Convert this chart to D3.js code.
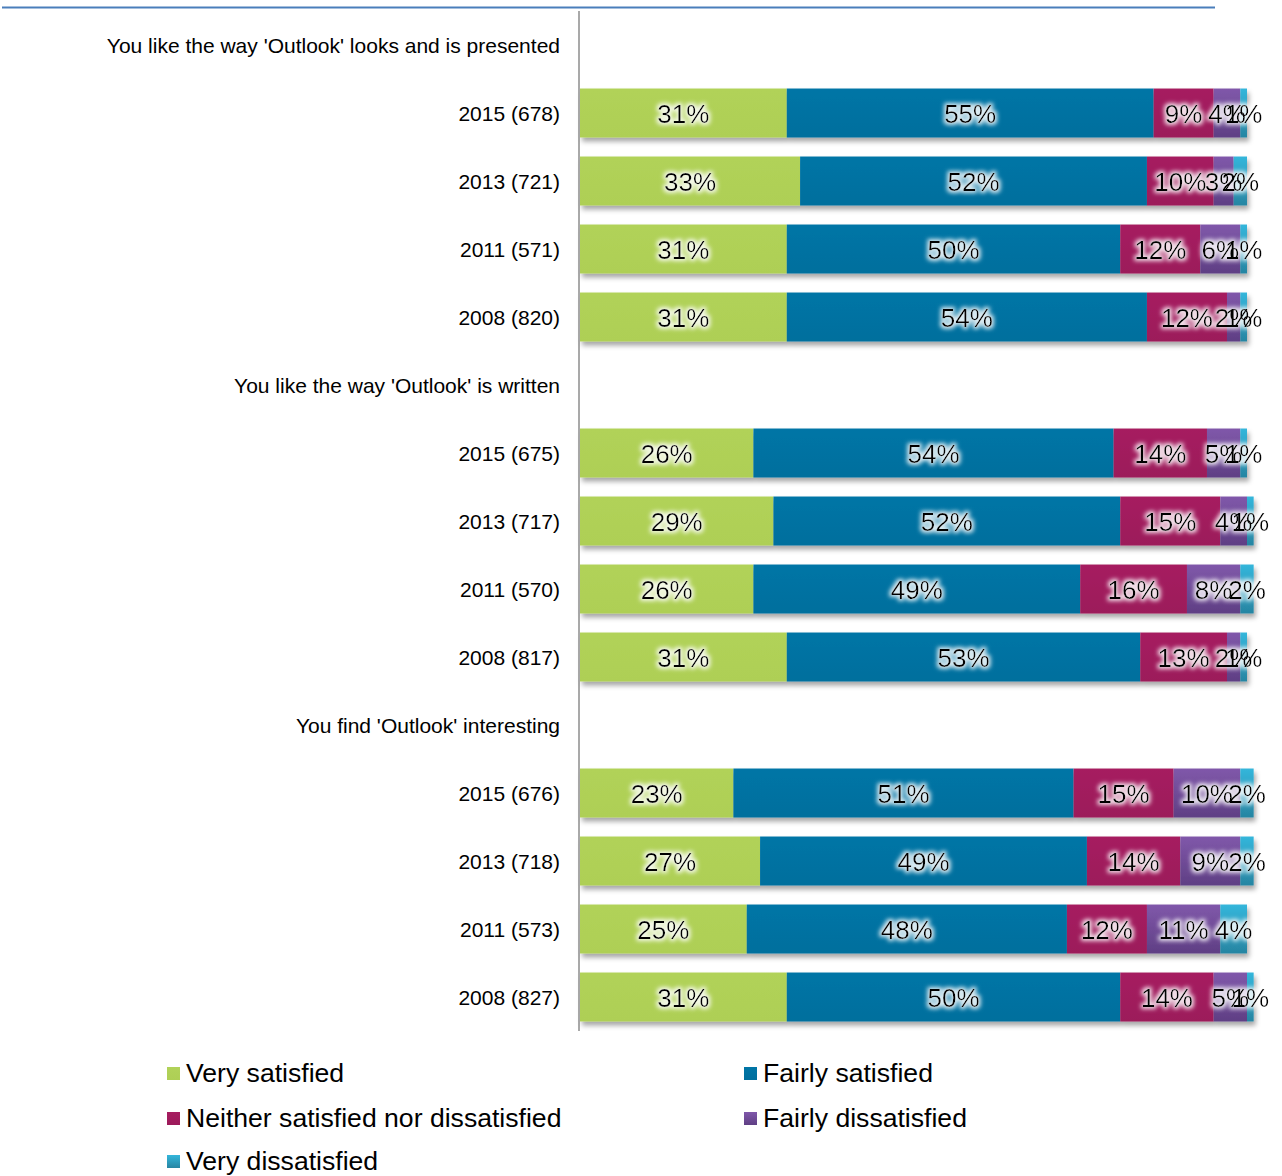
<!DOCTYPE html>
<html>
<head>
<meta charset="utf-8">
<script src="https://cdn.jsdelivr.net/npm/d3@7/dist/d3.min.js"></script>
<style>
  html, body { margin: 0; padding: 0; background: #fff; }
  svg { display: block; font-family: Arial, "Liberation Sans", sans-serif; }
</style>
</head>
<body>
<svg id="chart" width="1282" height="1176"></svg>
<script>
// Row labels: question headers (no bar) followed by survey years with base sizes
const rowLabels = [
  "You like the way 'Outlook' looks and is presented",
  "2015 (678)", "2013 (721)", "2011 (571)", "2008 (820)",
  "You like the way 'Outlook' is written",
  "2015 (675)", "2013 (717)", "2011 (570)", "2008 (817)",
  "You find 'Outlook' interesting",
  "2015 (676)", "2013 (718)", "2011 (573)", "2008 (827)"
];

const seriesNames = [
  "Very satisfied",
  "Fairly satisfied",
  "Neither satisfied nor dissatisfied",
  "Fairly dissatisfied",
  "Very dissatisfied"
];

// Percentages per row (null = header row)
const verySatisfied    = [null, 31, 33, 31, 31, null, 26, 29, 26, 31, null, 23, 27, 25, 31];
const fairlySatisfied  = [null, 55, 52, 50, 54, null, 54, 52, 49, 53, null, 51, 49, 48, 50];
const neither          = [null,  9, 10, 12, 12, null, 14, 15, 16, 13, null, 15, 14, 12, 14];
const fairlyDissat     = [null,  4,  3,  6,  2, null,  5,  4,  8,  2, null, 10,  9, 11,  5];
const veryDissat       = [null,  1,  2,  1,  1, null,  1,  1,  2,  1, null,  2,  2,  4,  1];

const seriesValues = [verySatisfied, fairlySatisfied, neither, fairlyDissat, veryDissat];

const colors = {
  "Very satisfied": ["#b1d259", "#aecf55"],
  "Fairly satisfied": ["#0075a6", "#006f9d"],
  "Neither satisfied nor dissatisfied": ["#a61d60", "#9c1a5a"],
  "Fairly dissatisfied": ["#8058aa", "#5f3f84"],
  "Very dissatisfied": ["#34b6db", "#2785a2"]
};

const svg = d3.select("#chart");
const defs = svg.append("defs");

// vertical gradients per series
seriesNames.forEach((name, i) => {
  const g = defs.append("linearGradient")
    .attr("id", "grad" + i).attr("x1", 0).attr("y1", 0).attr("x2", 0).attr("y2", 1);
  g.append("stop").attr("offset", "0%").attr("stop-color", colors[name][0]);
  g.append("stop").attr("offset", "100%").attr("stop-color", colors[name][1]);
});

// soft shadow under bars
const shadow = defs.append("filter").attr("id", "shadow")
  .attr("x", "-5%").attr("y", "-20%").attr("width", "115%").attr("height", "160%");
shadow.append("feDropShadow").attr("dx", 2).attr("dy", 4)
  .attr("stdDeviation", 2.5).attr("flood-color", "#000").attr("flood-opacity", 0.35);

// white halo around value labels
const glow = defs.append("filter").attr("id", "glow")
  .attr("x", "-30%").attr("y", "-40%").attr("width", "160%").attr("height", "180%");
glow.append("feMorphology").attr("in", "SourceAlpha").attr("operator", "dilate").attr("radius", 1.5).attr("result", "dil");
glow.append("feGaussianBlur").attr("in", "dil").attr("stdDeviation", 2).attr("result", "blur");
glow.append("feFlood").attr("flood-color", "#ffffff").attr("flood-opacity", 0.85).attr("result", "white");
glow.append("feComposite").attr("in", "white").attr("in2", "blur").attr("operator", "in").attr("result", "halo");
const merge = glow.append("feMerge");
merge.append("feMergeNode").attr("in", "halo");
merge.append("feMergeNode").attr("in", "SourceGraphic");

// top rule
svg.append("line")
  .attr("x1", 2).attr("x2", 1215).attr("y1", 7.5).attr("y2", 7.5)
  .attr("stroke", "#4a7ebb").attr("stroke-width", 2);

const x = d3.scaleLinear().domain([0, 100]).range([580, 1247]);
const y = d3.scaleBand().domain(rowLabels).range([11, 1031])
  .paddingInner(0.28).paddingOuter(0.14);

// table of rows for stacking
const rows = rowLabels.map((label, i) => {
  const r = { label, header: seriesValues[0][i] === null };
  seriesNames.forEach((s, k) => { r[s] = seriesValues[k][i] || 0; });
  return r;
});
const barRows = rows.filter(r => !r.header);
const stacked = d3.stack().keys(seriesNames)(barRows);

// bars
const barG = svg.append("g").attr("filter", "url(#shadow)");
stacked.forEach((layer, i) => {
  barG.selectAll(null).data(layer).enter().append("rect")
    .attr("x", d => x(d[0]))
    .attr("y", d => y(d.data.label))
    .attr("width", d => x(d[1]) - x(d[0]))
    .attr("height", y.bandwidth())
    .attr("fill", `url(#grad${i})`);
});

// value labels
const labG = svg.append("g").attr("filter", "url(#glow)");
stacked.forEach(layer => {
  labG.selectAll(null).data(layer.filter(d => d[1] - d[0] > 0)).enter().append("text")
    .attr("x", d => (x(d[0]) + x(d[1])) / 2)
    .attr("y", d => y(d.data.label) + y.bandwidth() / 2)
    .attr("dy", "0.38em")
    .attr("text-anchor", "middle")
    .attr("font-size", 26)
    .attr("fill", "#000")
    .text(d => (d[1] - d[0]) + "%");
});

// category axis
const yAxis = d3.axisLeft(y).tickSize(0).tickPadding(19);
const axG = svg.append("g").attr("transform", "translate(579,0)").call(yAxis);
axG.select(".domain").attr("stroke", "#8c8c8c").attr("stroke-width", 1.5)
  .attr("d", "M0,11V1031");
axG.selectAll("text")
  .attr("font-size", 21)
  .attr("dy", "0.4em")
  .attr("font-family", "Arial, 'Liberation Sans', sans-serif")
  .attr("fill", "#000");

// legend
const legendPos = [[167, 1073], [744, 1073], [167, 1118], [744, 1118], [167, 1161]];
const legG = svg.append("g");
seriesNames.forEach((name, i) => {
  const [lx, ly] = legendPos[i];
  legG.append("rect").attr("x", lx).attr("y", ly - 6).attr("width", 13).attr("height", 13)
    .attr("fill", `url(#grad${i})`);
  legG.append("text").attr("x", lx + 19).attr("y", ly).attr("dy", "0.35em")
    .attr("font-size", 26.6).attr("fill", "#000").text(name);
});
</script>
</body>
</html>
